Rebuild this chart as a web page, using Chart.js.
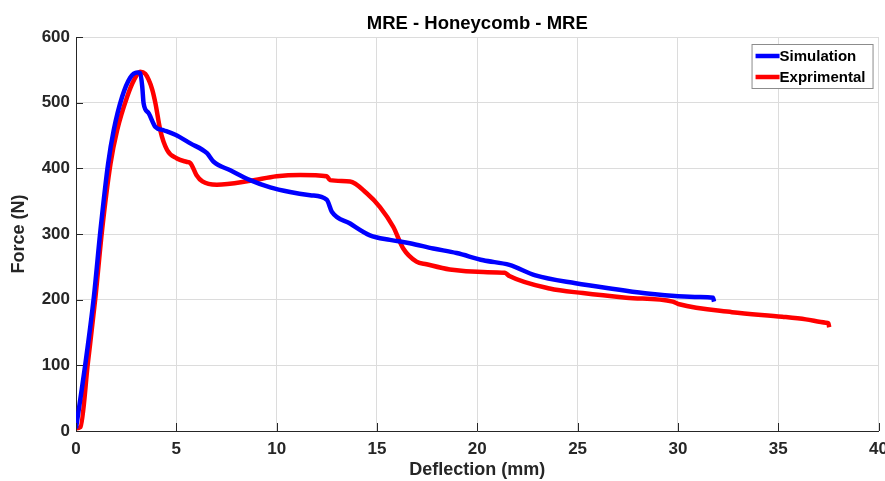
<!DOCTYPE html>
<html>
<head>
<meta charset="utf-8">
<script src="https://cdn.jsdelivr.net/npm/chart.js@4.4.1/dist/chart.umd.min.js"></script>
<style>
  html, body { margin: 0; padding: 0; background: #fff; overflow: hidden; }
  #forceChart { display: block; }
</style>
</head>
<body>
<canvas id="forceChart" width="896" height="481"></canvas>
<script>
const chartTitle = 'MRE - Honeycomb - MRE'
const xTitle = 'Deflection (mm)'
const yTitle = 'Force (N)'

// Simulation curve (deflection mm, force N)
const simX = [0, 0.47, 0.89, 1.22, 1.6, 1.88, 2.3, 2.7, 3.05, 3.2, 3.3, 3.37, 3.62, 3.96, 4.37, 4.95, 5.7, 6.53, 6.86, 7.69, 8.68, 9.68, 10.67, 11.67, 12.5, 12.75, 13.66, 14.65, 15.65, 16.64, 17.8, 18.97, 20.3, 21.6, 22.9, 24.9, 26.9, 28.6, 31.07, 31.75, 31.8]
const simY = [4, 103, 204, 306, 407, 458, 509, 538, 546, 545, 525, 499, 484, 463, 458, 451, 438, 423, 410, 397, 382, 371, 364, 359, 352, 334, 316, 298, 291, 286, 278, 271, 260, 253, 237, 225, 216, 209, 204, 203, 197]

// Experimental curve
const expX = [0, 0.22, 0.59, 0.97, 1.3, 1.72, 2.05, 2.55, 2.9, 3.2, 3.45, 3.62, 3.8, 3.96, 4.2, 4.54, 5.03, 5.5, 5.7, 6.0, 6.3, 7.02, 8.68, 10.0, 11.17, 12.5, 12.66, 13.66, 14.49, 15.15, 15.81, 16.31, 16.97, 17.47, 18.63, 20.3, 21.37, 21.6, 23.6, 25.26, 27.42, 29.74, 30.07, 32.7, 35.2, 36.38, 37.37, 37.5, 37.54]
const expY = [4, 6, 103, 204, 306, 407, 458, 509, 535, 547, 544, 535, 520, 499, 458, 428, 415, 410, 408, 390, 380, 375, 381, 388, 390, 388, 382, 380, 362, 341, 311, 278, 258, 254, 246, 242, 241, 236, 217, 210, 203, 197, 193, 181, 174, 170, 165, 164, 158]

const seriesLabels = ['Simulation', 'Exprimental']
const seriesColors = ['#0000ff', '#ff0000']

const xTicks = [0, 5, 10, 15, 20, 25, 30, 35, 40]
const yTicks = [0, 100, 200, 300, 400, 500, 600]

const textColor = '#262626'
const gridColor = '#dcdcdc'

function toPoints (xs, ys) {
  return xs.map((x, i) => ({ x: x, y: ys[i] }))
}

// MATLAB style ticks pointing into the plot
const innerTicks = {
  id: 'innerTicks',
  afterDatasetsDraw (chart) {
    const { ctx, chartArea, scales } = chart
    ctx.save()
    ctx.strokeStyle = textColor
    ctx.lineWidth = 1
    ctx.beginPath()
    xTicks.forEach(v => {
      const px = Math.round(scales.x.getPixelForValue(v)) + 0.5
      ctx.moveTo(px, chartArea.bottom)
      ctx.lineTo(px, chartArea.bottom - 8)
    })
    yTicks.forEach(v => {
      const py = Math.round(scales.y.getPixelForValue(v)) + 0.5
      ctx.moveTo(chartArea.left, py)
      ctx.lineTo(chartArea.left + 7, py)
    })
    ctx.stroke()
    ctx.restore()
  }
}

// legend box inside the top right corner
const boxLegend = {
  id: 'boxLegend',
  afterDraw (chart) {
    const { ctx, chartArea } = chart
    const w = 121
    const h = 44
    const x0 = chartArea.right - 127
    const y0 = chartArea.top + 7
    ctx.save()
    ctx.fillStyle = '#ffffff'
    ctx.fillRect(x0, y0, w, h)
    ctx.strokeStyle = '#8c8c8c'
    ctx.lineWidth = 1
    ctx.strokeRect(x0 + 0.5, y0 + 0.5, w, h)
    ctx.font = 'bold 15px "Liberation Sans", Arial, sans-serif'
    ctx.textBaseline = 'middle'
    ctx.fillStyle = '#000000'
    chart.data.datasets.forEach((ds, i) => {
      const yy = y0 + 12 + i * 21
      ctx.strokeStyle = ds.borderColor
      ctx.lineWidth = 4.5
      ctx.beginPath()
      ctx.moveTo(x0 + 4, yy)
      ctx.lineTo(x0 + 28, yy)
      ctx.stroke()
      ctx.fillText(ds.label, x0 + 28, yy + 1)
    })
    ctx.restore()
  }
}

const ctx = document.getElementById('forceChart').getContext('2d')

const chart = new Chart(ctx, {
  type: 'line',
  data: {
    datasets: [
      {
        label: seriesLabels[0],
        data: toPoints(simX, simY),
        borderColor: seriesColors[0],
        borderWidth: 4.5,
        pointRadius: 0,
        cubicInterpolationMode: 'monotone'
      },
      {
        label: seriesLabels[1],
        data: toPoints(expX, expY),
        borderColor: seriesColors[1],
        borderWidth: 4.5,
        pointRadius: 0,
        cubicInterpolationMode: 'monotone'
      }
    ]
  },
  options: {
    responsive: false,
    animation: false,
    layout: { padding: 0 },
    plugins: {
      legend: { display: false },
      tooltip: { enabled: false },
      title: {
        display: true,
        text: chartTitle,
        fullSize: false,
        color: '#000000',
        font: { family: '"Liberation Sans", Arial, sans-serif', size: 18.5, weight: 'bold', lineHeight: 1.2 },
        padding: { top: 12.8, bottom: 2 }
      }
    },
    scales: {
      x: {
        type: 'linear',
        min: 0,
        max: 40,
        afterBuildTicks: (scale) => { scale.ticks = xTicks.map(v => ({ value: v })) },
        afterFit: (scale) => { scale.height = 50 },
        grid: { color: gridColor, drawTicks: false },
        border: { color: textColor, width: 1 },
        ticks: {
          color: textColor,
          padding: 8,
          font: { family: '"Liberation Sans", Arial, sans-serif', size: 17, weight: 'bold' }
        },
        title: {
          display: true,
          text: xTitle,
          color: textColor,
          padding: 0,
          font: { family: '"Liberation Sans", Arial, sans-serif', size: 18, weight: 'bold', lineHeight: 1.2 }
        }
      },
      y: {
        min: 0,
        max: 600,
        afterBuildTicks: (scale) => { scale.ticks = yTicks.map(v => ({ value: v })) },
        afterFit: (scale) => { scale.width = 76 },
        grid: { color: gridColor, drawTicks: false },
        border: { color: textColor, width: 1 },
        ticks: {
          color: textColor,
          padding: 6,
          font: { family: '"Liberation Sans", Arial, sans-serif', size: 17, weight: 'bold' }
        },
        title: {
          display: true,
          text: yTitle,
          color: textColor,
          padding: { top: 8, bottom: 0 },
          font: { family: '"Liberation Sans", Arial, sans-serif', size: 18, weight: 'bold', lineHeight: 1.2 }
        }
      }
    }
  },
  plugins: [innerTicks, boxLegend]
})
</script>
</body>
</html>
